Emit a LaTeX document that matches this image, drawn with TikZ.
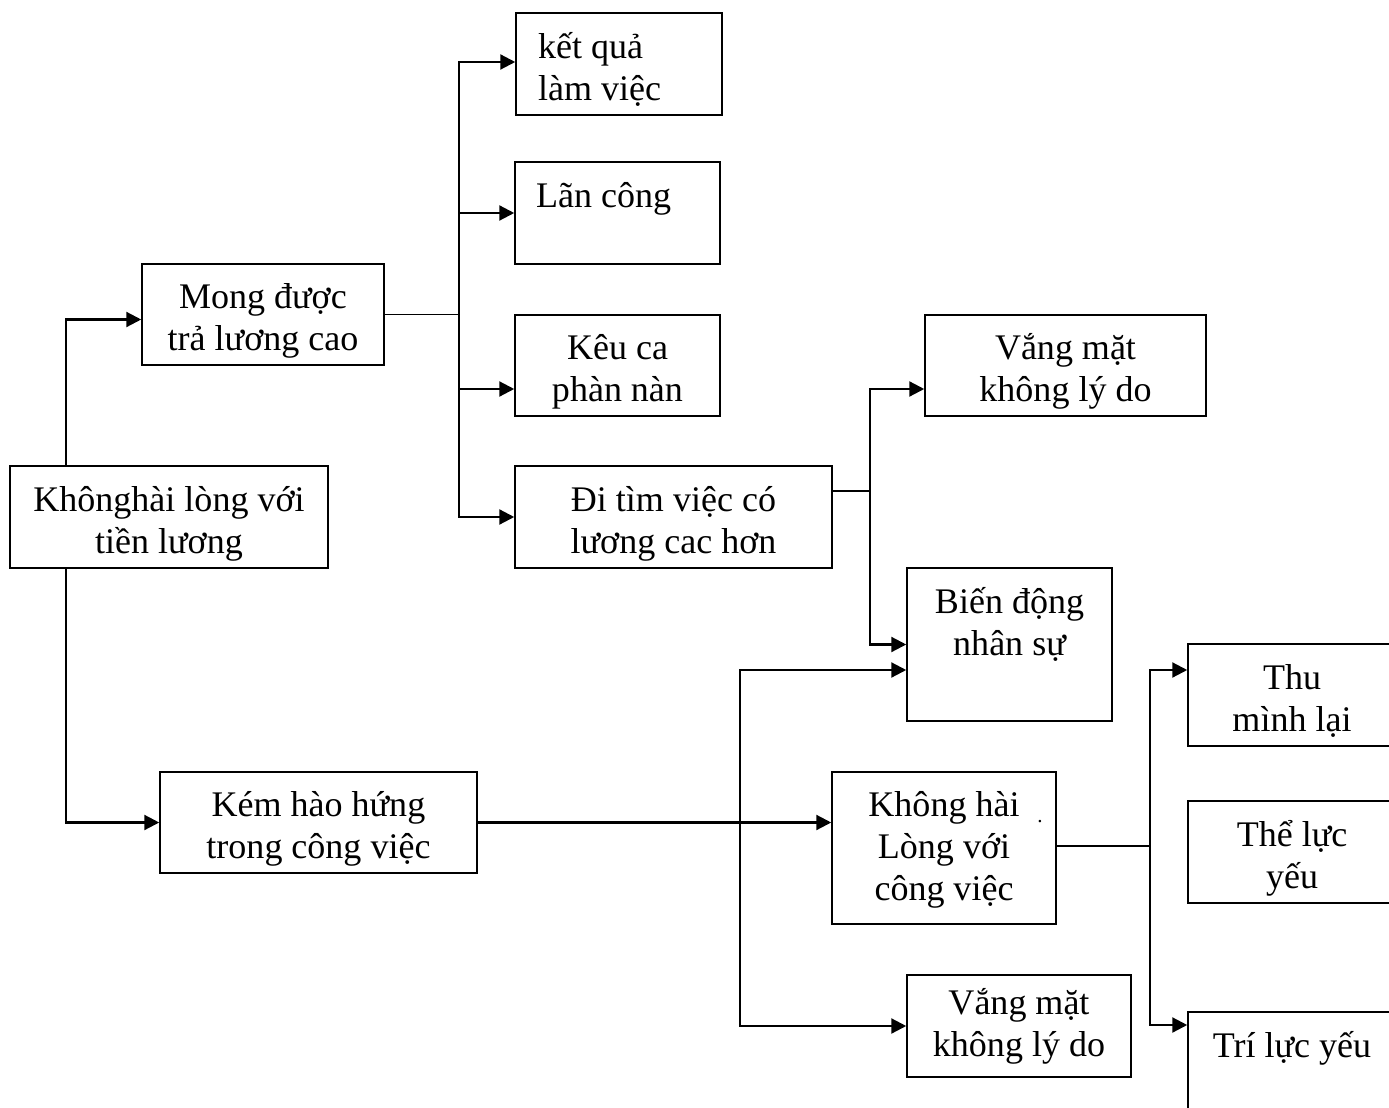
\documentclass[tikz,border=0pt]{standalone}
\usepackage{fontspec}
\setmainfont{Liberation Serif}
\usetikzlibrary{arrows.meta, calc}
\usepackage{xcolor}
\definecolor{ink}{HTML}{000000}
\newcommand{\upstrut}{\rule{0pt}{23.5pt}}
\newcommand{\dnstrut}{\rule[-6.2pt]{0pt}{6.2pt}}
\newcommand{\dnstrutx}{\rule[-11.2pt]{0pt}{11.2pt}}
\tikzset{
  box/.style  = {draw=ink, line width=0.9pt, inner sep=2pt,
                 align=center, font=\fontsize{20.5}{23.8}\selectfont},
  lbox/.style = {box, align=flush left},
  arr/.style  = {-{Triangle[length=8.5pt, width=8.5pt]}, line width=1.3pt, ink},
  link/.style = {line width=0.9pt, ink},
}

\begin{document}
\begin{tikzpicture}[x=0.02cm, y=-0.02cm]
  \useasboundingbox (0,0) rectangle (1389,1108);

  \node[box, minimum width=6.36cm, minimum height=2.04cm] (root) at (169,517)
    {\upstrut Khônghài lòng với\\tiền lương\dnstrut};
  \node[box, minimum width=4.84cm, minimum height=2.02cm] (mong) at (263,314.5)
    {\upstrut Mong được\\trả lương cao\dnstrut};
  \node[box, minimum width=6.34cm, minimum height=2.02cm] (kem) at (318.5,822.5)
    {\upstrut Kém hào hứng\\trong công việc\dnstrut};

  \node[lbox, minimum width=4.12cm, minimum height=2.04cm,
        text width=3.24cm, inner xsep=0.44cm] (ketqua) at (619,64)
    {\upstrut kết quả\\làm việc\dnstrut};
  \node[lbox, minimum width=4.10cm, minimum height=2.04cm,
        text width=3.26cm, inner xsep=0.42cm] (lancong) at (617.5,213)
    {\upstrut Lãn công\\\dnstrut};
  \node[box, minimum width=4.10cm, minimum height=2.02cm] (keuca) at (617.5,365.5)
    {\upstrut Kêu ca\\phàn nàn\dnstrut};
  \node[box, minimum width=6.34cm, minimum height=2.04cm] (ditim) at (673.5,517)
    {\upstrut Đi tìm việc có\\lương cac hơn\dnstrut};

  \node[box, minimum width=5.62cm, minimum height=2.02cm] (vangA) at (1065.5,365.5)
    {\upstrut Vắng mặt\\không lý do\dnstrut};
  \node[box, minimum width=4.10cm, minimum height=3.06cm] (biendong) at (1009.5,644.5)
    {\upstrut Biến động\\nhân sự\\\dnstrutx};
  \node[box, minimum width=4.48cm, minimum height=3.04cm] (khonghai) at (944,848)
    {\upstrut Không hài\\Lòng với\\công việc\dnstrutx};
  \node[box, minimum width=4.48cm, minimum height=2.04cm] (vangB) at (1019,1026)
    {Vắng mặt\\không lý do};

  \node[box, minimum width=4.16cm, minimum height=2.04cm] (thu) at (1292,695)
    {\upstrut Thu\\mình lại\dnstrut};
  \node[box, minimum width=4.16cm, minimum height=2.04cm] (theluc) at (1292,852)
    {\upstrut Thể lực\\yếu\dnstrut};
  \node[box, minimum width=4.16cm, minimum height=2.04cm] (triluc) at (1292,1063)
    {\upstrut Trí lực yếu\\\dnstrut};
  \node[inner sep=0pt, font=\fontsize{12}{14}\selectfont] (dot) at (1040,822) {.};

  \draw[arr] ($(root.north west)+(57,0)$) |- ($(mong.west)+(0,5)$);
  \draw[arr] ($(root.south west)+(57,0)$) |- (kem.west);

  \coordinate (forkA) at ($(mong.east)+(74,0)$);
  \draw[link] (mong.east) -- (forkA);
  \foreach \t/\d in {ketqua/-2, lancong/0, keuca/23.5, ditim/0}
    \draw[arr] (forkA) |- ($(\t.west)+(0,\d)$);

  \coordinate (forkB) at ($(ditim.east)+(37,-26)$);
  \draw[link] ($(ditim.east)+(0,-26)$) -- (forkB);
  \draw[arr] (forkB) |- ($(vangA.west)+(0,23.5)$);
  \draw[arr] (forkB) |- (biendong.west);

  \draw[arr] (kem.east) -- (kem.east -| khonghai.west);
  \coordinate (forkC) at ($(kem.east)+(262,0)$);
  \draw[arr] (forkC) |- ($(biendong.west)+(0,25.5)$);
  \draw[arr] (forkC) |- (vangB.west);

  \coordinate (forkD) at ($(khonghai.east)+(93,-2)$);
  \draw[link] ($(khonghai.east)+(0,-2)$) -- (forkD);
  \draw[arr] (forkD) |- ($(thu.west)+(0,-25)$);
  \draw[arr] (forkD) |- ($(triluc.west)+(0,-38)$);

\end{tikzpicture}
\end{document}
